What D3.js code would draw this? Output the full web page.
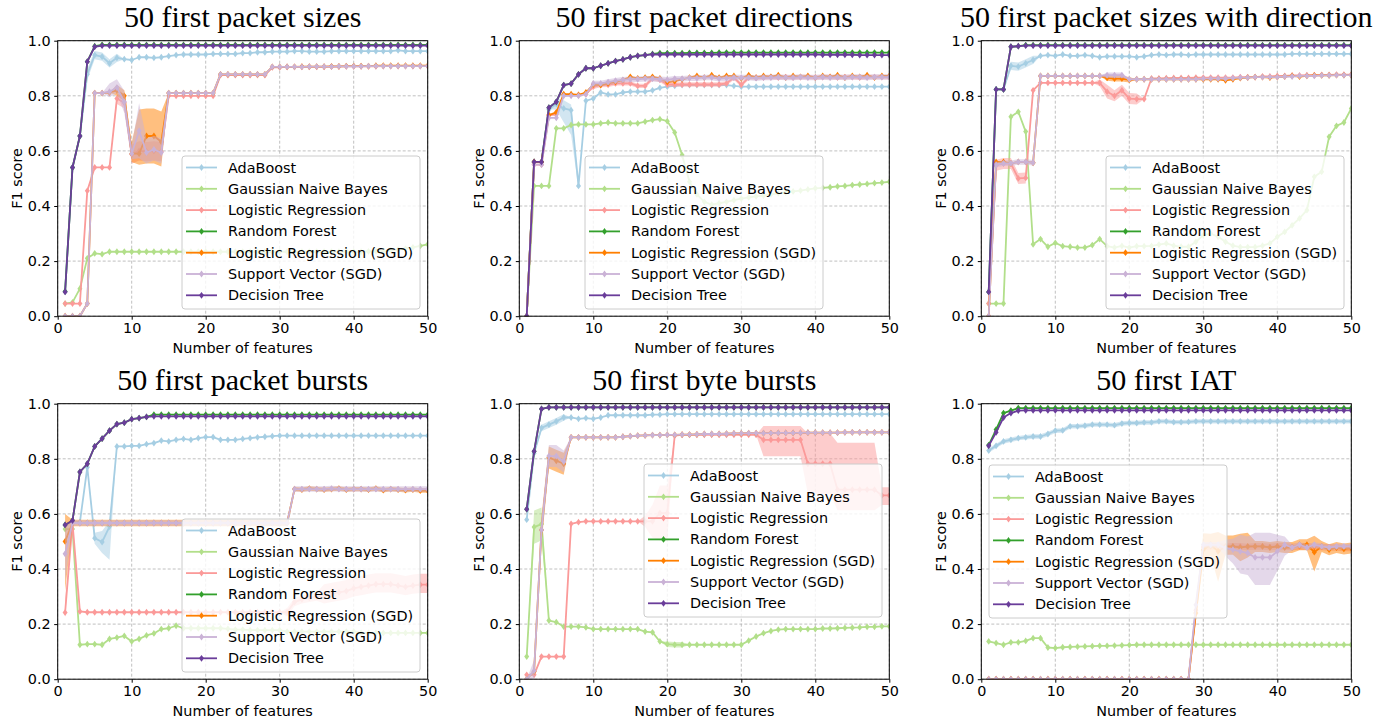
<!DOCTYPE html>
<html><head><meta charset="utf-8">
<script src="https://cdn.jsdelivr.net/npm/d3@7"></script>
<style>body{margin:0;background:#fff}</style>
</head><body><svg id="c" width="1377" height="725"></svg>
<script>
const seriesNames = ["AdaBoost","Gaussian Naive Bayes","Logistic Regression","Random Forest","Logistic Regression (SGD)","Support Vector (SGD)","Decision Tree"];
const seriesColors = ["#a6cee3","#b2df8a","#fb9a99","#33a02c","#ff7f00","#cab2d6","#6a3d9a"];
const panelTitles = ["50 first packet sizes","50 first packet directions","50 first packet sizes with direction","50 first packet bursts","50 first byte bursts","50 first IAT"];
const xTickValues = [0,10,20,30,40,50];
const yTickValues = [0,0.2,0.4,0.6,0.8,1.0];
const features = [1,2,3,4,5,6,7,8,9,10,11,12,13,14,15,16,17,18,19,20,21,22,23,24,25,26,27,28,29,30,31,32,33,34,35,36,37,38,39,40,41,42,43,44,45,46,47,48,49,50];

// ---------- Panel 1: packet sizes ----------
const p1_ada = [0.09,0.54,0.654,0.878,0.948,0.942,0.918,0.938,0.933,0.93,
 0.94,0.94,0.938,0.94,0.944,0.948,0.95,0.95,0.95,0.95,
 0.952,0.952,0.952,0.952,0.955,0.955,0.958,0.958,0.96,0.96,
 0.96,0.962,0.962,0.96,0.96,0.96,0.962,0.962,0.962,0.962,
 0.962,0.962,0.962,0.962,0.962,0.965,0.962,0.962,0.962,0.962];
const p1_gnb = [0.046,0.05,0.1,0.21,0.228,0.225,0.234,0.234,0.234,0.234,
 0.234,0.234,0.234,0.234,0.234,0.234,0.234,0.234,0.234,0.234,
 0.234,0.234,0.234,0.234,0.234,0.234,0.234,0.234,0.234,0.234,
 0.234,0.234,0.234,0.234,0.234,0.234,0.234,0.234,0.234,0.234,
 0.234,0.235,0.236,0.237,0.239,0.242,0.245,0.25,0.255,0.261];
const p1_lr = [0.046,0.046,0.046,0.455,0.54,0.54,0.54,0.79,0.775,0.588,
 0.6,0.597,0.6,0.597,0.8,0.8,0.8,0.8,0.8,0.8,
 0.8,0.875,0.875,0.875,0.875,0.875,0.875,0.875,0.903,0.903,
 0.905,0.905,0.905,0.905,0.905,0.905,0.906,0.906,0.907,0.907,
 0.907,0.907,0.907,0.908,0.908,0.908,0.908,0.908,0.908,0.908];
const p1_rf = [0.09,0.54,0.654,0.924,0.98,0.985,0.985,0.985,0.985,0.985,
 0.985,0.985,0.985,0.985,0.985,0.985,0.985,0.985,0.985,0.985,
 0.985,0.985,0.985,0.985,0.985,0.985,0.985,0.985,0.985,0.985,
 0.985,0.985,0.985,0.985,0.985,0.985,0.985,0.985,0.985,0.985,
 0.985,0.985,0.985,0.985,0.985,0.985,0.985,0.985,0.985,0.985];
const p1_sgd = [0,0,0,0.046,0.81,0.81,0.812,0.82,0.8,0.59,
 0.59,0.654,0.654,0.633,0.81,0.81,0.81,0.81,0.81,0.81,
 0.81,0.878,0.878,0.878,0.878,0.878,0.878,0.878,0.905,0.905,
 0.905,0.905,0.906,0.906,0.906,0.906,0.907,0.907,0.908,0.908,
 0.908,0.908,0.909,0.909,0.909,0.909,0.909,0.909,0.909,0.909];
const p1_sv = [0,0,0,0.046,0.81,0.81,0.815,0.83,0.778,0.59,
 0.673,0.594,0.605,0.594,0.81,0.81,0.81,0.81,0.81,0.81,
 0.81,0.878,0.878,0.878,0.878,0.878,0.878,0.878,0.905,0.905,
 0.905,0.905,0.905,0.906,0.906,0.906,0.906,0.907,0.907,0.907,
 0.907,0.908,0.908,0.908,0.908,0.908,0.908,0.908,0.908,0.908];
const p1_dt = [0.088,0.54,0.654,0.924,0.978,0.982,0.982,0.982,0.982,0.982,
 0.982,0.982,0.982,0.982,0.982,0.982,0.982,0.982,0.982,0.982,
 0.982,0.982,0.982,0.982,0.982,0.982,0.982,0.982,0.982,0.982,
 0.982,0.982,0.982,0.982,0.982,0.982,0.982,0.982,0.982,0.982,
 0.982,0.982,0.982,0.982,0.982,0.982,0.982,0.982,0.982,0.982];
// spread bands: [fromX, toX, lowOffset, highOffset]
const p1_ada_band = [[4,4,-0.02,0.02],[5,8,-0.015,0.015]];
const p1_lr_band = [[8,9,-0.02,0.02],[10,14,-0.035,0.035]];
const p1_sgd_band = [[8,9,-0.02,0.02],[10,10,-0.03,0.04],[11,11,-0.04,0.16],[12,13,-0.1,0.1],[14,14,-0.09,0.11]];
const p1_sv_band = [[7,8,-0.02,0.03],[9,9,-0.04,0.04],[10,10,-0.02,0.03],[11,11,-0.1,0.1],[12,14,-0.04,0.05]];

// ---------- Panel 2: packet directions ----------
const p2_ada = [0,0.56,0.56,0.75,0.77,0.754,0.748,0.473,0.782,0.79,
 0.812,0.805,0.805,0.812,0.815,0.815,0.815,0.82,0.829,0.833,
 0.836,0.839,0.839,0.839,0.839,0.839,0.839,0.839,0.836,0.833,
 0.833,0.833,0.833,0.833,0.833,0.833,0.833,0.833,0.833,0.833,
 0.833,0.833,0.833,0.833,0.833,0.833,0.833,0.833,0.833,0.833];
const p2_gnb = [0,0.473,0.473,0.473,0.682,0.682,0.694,0.696,0.696,0.696,
 0.7,0.703,0.7,0.7,0.7,0.7,0.706,0.712,0.715,0.708,
 0.667,0.585,0.488,0.442,0.415,0.405,0.41,0.415,0.421,0.427,
 0.431,0.435,0.438,0.442,0.446,0.449,0.453,0.456,0.46,0.464,
 0.466,0.468,0.471,0.473,0.476,0.478,0.48,0.483,0.485,0.488];
const p2_lr = [0,0.55,0.55,0.73,0.732,0.803,0.803,0.803,0.806,0.833,
 0.839,0.84,0.845,0.845,0.845,0.836,0.836,0.863,0.858,0.841,
 0.841,0.841,0.841,0.841,0.841,0.841,0.841,0.845,0.866,0.84,
 0.866,0.866,0.866,0.868,0.866,0.868,0.866,0.868,0.868,0.866,
 0.868,0.868,0.866,0.868,0.868,0.866,0.868,0.868,0.868,0.868];
const p2_rf = [0,0.56,0.56,0.757,0.778,0.839,0.844,0.878,0.9,0.9,
 0.909,0.918,0.926,0.932,0.94,0.945,0.948,0.952,0.955,0.955,
 0.955,0.955,0.956,0.956,0.956,0.956,0.957,0.957,0.957,0.957,
 0.957,0.957,0.957,0.957,0.957,0.957,0.957,0.957,0.957,0.957,
 0.957,0.957,0.957,0.957,0.957,0.957,0.957,0.957,0.957,0.957];
const p2_sgd = [0,0.56,0.56,0.73,0.74,0.806,0.806,0.803,0.812,0.841,
 0.839,0.845,0.851,0.857,0.869,0.863,0.866,0.869,0.863,0.85,
 0.853,0.86,0.866,0.872,0.866,0.875,0.866,0.872,0.872,0.863,
 0.875,0.866,0.872,0.869,0.875,0.866,0.872,0.869,0.872,0.866,
 0.872,0.869,0.875,0.866,0.872,0.869,0.875,0.866,0.872,0.872];
const p2_sv = [0,0.55,0.55,0.72,0.72,0.8,0.8,0.8,0.806,0.845,
 0.845,0.85,0.855,0.858,0.86,0.86,0.862,0.862,0.86,0.858,
 0.862,0.862,0.864,0.864,0.866,0.866,0.862,0.864,0.866,0.866,
 0.866,0.864,0.866,0.866,0.868,0.866,0.866,0.868,0.866,0.866,
 0.868,0.866,0.868,0.866,0.868,0.868,0.866,0.868,0.868,0.868];
const p2_dt = [0,0.56,0.56,0.757,0.778,0.839,0.844,0.878,0.9,0.9,
 0.909,0.918,0.926,0.932,0.94,0.945,0.948,0.95,0.95,0.95,
 0.95,0.95,0.95,0.95,0.95,0.95,0.95,0.95,0.95,0.95,
 0.95,0.95,0.95,0.95,0.95,0.95,0.95,0.95,0.95,0.95,
 0.949,0.949,0.949,0.949,0.949,0.948,0.948,0.948,0.948,0.948];
const p2_ada_band = [[5,5,-0.02,0.02],[6,6,-0.05,0.03],[7,7,-0.09,0.02],[8,8,-0.01,0.01]];
const p2_lr_band = [[10,50,-0.008,0.008]];
const p2_sv_band = [[10,50,-0.01,0.01]];

// ---------- Panel 3: packet sizes with direction ----------
const p3_ada = [0.088,0.823,0.823,0.909,0.906,0.918,0.93,0.945,0.948,0.945,
 0.95,0.945,0.945,0.948,0.945,0.94,0.943,0.943,0.943,0.943,
 0.94,0.943,0.948,0.95,0.948,0.95,0.95,0.948,0.95,0.95,
 0.95,0.95,0.95,0.95,0.95,0.95,0.95,0.95,0.95,0.95,
 0.95,0.952,0.952,0.952,0.952,0.952,0.952,0.952,0.952,0.952];
const p3_gnb = [0.046,0.046,0.046,0.724,0.742,0.67,0.261,0.28,0.252,0.266,
 0.254,0.252,0.249,0.249,0.258,0.28,0.254,0.249,0.255,0.249,
 0.254,0.254,0.255,0.26,0.264,0.256,0.252,0.252,0.27,0.294,
 0.3,0.288,0.27,0.256,0.251,0.251,0.251,0.256,0.264,0.288,
 0.306,0.33,0.355,0.385,0.506,0.524,0.651,0.691,0.703,0.754];
const p3_lr = [0.046,0.548,0.554,0.554,0.5,0.502,0.82,0.847,0.847,0.847,
 0.847,0.847,0.847,0.847,0.847,0.847,0.815,0.8,0.82,0.79,
 0.788,0.788,0.863,0.863,0.864,0.865,0.865,0.865,0.866,0.866,
 0.866,0.866,0.866,0.866,0.868,0.868,0.868,0.87,0.87,0.872,
 0.872,0.874,0.874,0.875,0.875,0.876,0.876,0.877,0.877,0.877];
const p3_rf = [0.088,0.823,0.823,0.978,0.98,0.984,0.984,0.984,0.984,0.984,
 0.984,0.984,0.984,0.984,0.984,0.984,0.984,0.984,0.984,0.984,
 0.984,0.984,0.984,0.984,0.984,0.984,0.984,0.984,0.984,0.984,
 0.984,0.984,0.984,0.984,0.984,0.984,0.984,0.984,0.984,0.984,
 0.984,0.984,0.984,0.984,0.984,0.984,0.984,0.984,0.984,0.984];
const p3_sgd = [0,0.56,0.56,0.555,0.56,0.56,0.557,0.872,0.872,0.872,
 0.872,0.872,0.872,0.872,0.872,0.872,0.865,0.862,0.862,0.858,
 0.86,0.86,0.86,0.86,0.86,0.86,0.86,0.86,0.86,0.86,
 0.86,0.86,0.856,0.86,0.864,0.866,0.868,0.868,0.866,0.868,
 0.87,0.872,0.87,0.872,0.874,0.874,0.874,0.875,0.875,0.875];
const p3_sv = [0,0.55,0.555,0.555,0.56,0.56,0.557,0.872,0.872,0.872,
 0.872,0.872,0.872,0.872,0.872,0.872,0.875,0.875,0.875,0.86,
 0.86,0.86,0.86,0.86,0.86,0.86,0.86,0.86,0.86,0.862,
 0.862,0.862,0.862,0.864,0.866,0.866,0.868,0.868,0.868,0.868,
 0.87,0.87,0.872,0.872,0.872,0.874,0.874,0.875,0.875,0.875];
const p3_dt = [0.088,0.823,0.823,0.978,0.98,0.982,0.982,0.982,0.982,0.982,
 0.982,0.982,0.982,0.982,0.982,0.982,0.982,0.982,0.982,0.982,
 0.982,0.982,0.982,0.982,0.982,0.982,0.982,0.982,0.982,0.982,
 0.982,0.982,0.982,0.982,0.982,0.982,0.982,0.982,0.982,0.982,
 0.982,0.982,0.982,0.982,0.982,0.982,0.982,0.982,0.982,0.982];
const p3_ada_band = [[4,7,-0.015,0.015]];
const p3_lr_band = [[2,6,-0.02,0.02],[16,16,-0.012,0.012],[17,17,-0.025,0.025],[18,21,-0.02,0.02]];
const p3_sgd_band = [[17,20,-0.01,0.01]];
const p3_sv_band = [[2,7,-0.01,0.01],[17,19,-0.01,0.01]];

// ---------- Panel 4: packet bursts ----------
const p4_ada = [0.56,0.57,0.57,0.769,0.512,0.498,0.554,0.845,0.845,0.847,
 0.847,0.853,0.857,0.866,0.863,0.869,0.872,0.869,0.875,0.879,
 0.879,0.869,0.869,0.869,0.872,0.875,0.878,0.88,0.882,0.884,
 0.884,0.884,0.884,0.884,0.884,0.884,0.884,0.884,0.884,0.884,
 0.884,0.884,0.884,0.884,0.884,0.884,0.884,0.884,0.884,0.884];
const p4_gnb = [0.545,0.545,0.125,0.127,0.127,0.125,0.146,0.151,0.157,0.137,
 0.146,0.159,0.166,0.182,0.185,0.194,0.185,0.185,0.185,0.185,
 0.185,0.185,0.183,0.18,0.18,0.178,0.178,0.178,0.178,0.178,
 0.173,0.173,0.173,0.173,0.173,0.173,0.173,0.173,0.173,0.173,
 0.168,0.168,0.168,0.168,0.168,0.168,0.168,0.168,0.168,0.168];
const p4_lr = [0.242,0.567,0.246,0.243,0.243,0.243,0.243,0.243,0.243,0.243,
 0.243,0.243,0.243,0.243,0.243,0.243,0.243,0.243,0.243,0.243,
 0.243,0.243,0.243,0.243,0.243,0.243,0.243,0.243,0.243,0.243,
 0.243,0.28,0.29,0.295,0.3,0.305,0.31,0.315,0.32,0.33,
 0.335,0.34,0.345,0.345,0.345,0.34,0.335,0.34,0.343,0.343];
const p4_rf = [0.56,0.576,0.752,0.782,0.845,0.873,0.902,0.926,0.931,0.944,
 0.948,0.952,0.96,0.96,0.96,0.96,0.96,0.96,0.96,0.96,
 0.96,0.96,0.96,0.96,0.96,0.96,0.96,0.96,0.96,0.96,
 0.96,0.96,0.96,0.96,0.96,0.96,0.96,0.96,0.96,0.96,
 0.96,0.96,0.96,0.96,0.96,0.96,0.96,0.96,0.96,0.96];
const p4_sgd = [0.5,0.567,0.567,0.567,0.567,0.567,0.567,0.567,0.567,0.567,
 0.567,0.567,0.567,0.567,0.567,0.567,0.567,0.567,0.567,0.567,
 0.567,0.567,0.567,0.567,0.567,0.567,0.567,0.567,0.567,0.567,
 0.567,0.69,0.688,0.692,0.69,0.688,0.69,0.692,0.688,0.69,
 0.69,0.688,0.692,0.686,0.69,0.688,0.686,0.688,0.685,0.685];
const p4_sv = [0.455,0.567,0.567,0.567,0.567,0.567,0.567,0.567,0.567,0.567,
 0.567,0.567,0.567,0.567,0.567,0.567,0.567,0.567,0.567,0.567,
 0.567,0.567,0.567,0.567,0.567,0.567,0.567,0.567,0.567,0.567,
 0.567,0.69,0.69,0.69,0.69,0.69,0.692,0.69,0.69,0.69,
 0.69,0.69,0.69,0.69,0.69,0.69,0.69,0.69,0.69,0.69];
const p4_dt = [0.56,0.576,0.752,0.782,0.845,0.873,0.902,0.926,0.931,0.944,
 0.948,0.952,0.954,0.954,0.954,0.954,0.954,0.954,0.954,0.954,
 0.954,0.954,0.954,0.954,0.954,0.954,0.954,0.954,0.954,0.954,
 0.954,0.954,0.954,0.954,0.954,0.954,0.954,0.954,0.954,0.954,
 0.954,0.954,0.954,0.954,0.954,0.954,0.954,0.954,0.954,0.954];
const p4_ada_band = [[5,5,-0.02,0.02],[6,6,-0.04,0.04],[7,7,-0.12,0.02]];
const p4_lr_band = [[1,1,-0.02,0.05],[31,35,-0.015,0.015],[36,50,-0.03,0.04]];
const p4_sgd_band = [[1,1,-0.18,0.1],[2,31,-0.012,0.012],[32,50,-0.008,0.008]];
const p4_sv_band = [[1,1,-0.1,0.1],[2,50,-0.01,0.01]];

// ---------- Panel 5: byte bursts ----------
const p5_ada = [0.579,0.82,0.912,0.924,0.936,0.95,0.95,0.945,0.948,0.945,
 0.95,0.958,0.958,0.958,0.958,0.958,0.958,0.96,0.96,0.962,
 0.962,0.962,0.962,0.962,0.962,0.962,0.962,0.962,0.962,0.962,
 0.962,0.962,0.962,0.962,0.962,0.962,0.962,0.962,0.962,0.962,
 0.962,0.962,0.962,0.962,0.962,0.962,0.962,0.962,0.962,0.962];
const p5_gnb = [0.082,0.552,0.563,0.213,0.207,0.191,0.191,0.191,0.188,0.182,
 0.182,0.182,0.182,0.182,0.182,0.182,0.173,0.17,0.137,0.127,
 0.125,0.125,0.125,0.125,0.125,0.125,0.125,0.125,0.125,0.125,
 0.14,0.155,0.167,0.175,0.18,0.182,0.182,0.182,0.182,0.182,
 0.184,0.184,0.185,0.186,0.187,0.188,0.19,0.19,0.192,0.192];
const p5_lr = [0.016,0.016,0.082,0.082,0.082,0.082,0.564,0.57,0.573,0.573,
 0.573,0.573,0.573,0.573,0.573,0.573,0.573,0.573,0.603,0.603,
 0.884,0.887,0.887,0.887,0.887,0.887,0.887,0.887,0.887,0.887,
 0.887,0.887,0.869,0.869,0.869,0.869,0.869,0.869,0.782,0.782,
 0.782,0.782,0.688,0.688,0.688,0.688,0.688,0.688,0.667,0.667];
const p5_rf = [0.617,0.827,0.981,0.987,0.987,0.987,0.987,0.987,0.987,0.987,
 0.987,0.987,0.987,0.987,0.987,0.987,0.987,0.987,0.987,0.987,
 0.987,0.987,0.987,0.987,0.987,0.987,0.987,0.987,0.987,0.987,
 0.987,0.987,0.987,0.987,0.987,0.987,0.987,0.987,0.987,0.987,
 0.987,0.987,0.987,0.987,0.987,0.987,0.987,0.987,0.987,0.987];
const p5_sgd = [0,0.028,0.542,0.805,0.793,0.782,0.878,0.878,0.878,0.878,
 0.878,0.878,0.878,0.88,0.882,0.884,0.885,0.886,0.886,0.887,
 0.887,0.888,0.888,0.889,0.89,0.89,0.89,0.891,0.892,0.892,
 0.893,0.893,0.893,0.893,0.894,0.894,0.894,0.894,0.895,0.895,
 0.895,0.895,0.895,0.896,0.896,0.896,0.896,0.896,0.896,0.896];
const p5_sv = [0,0.03,0.542,0.81,0.81,0.79,0.878,0.878,0.878,0.878,
 0.878,0.878,0.878,0.88,0.882,0.884,0.885,0.886,0.886,0.887,
 0.887,0.888,0.888,0.889,0.89,0.89,0.89,0.891,0.892,0.892,
 0.893,0.893,0.893,0.893,0.894,0.894,0.894,0.894,0.895,0.895,
 0.895,0.895,0.895,0.896,0.896,0.896,0.896,0.896,0.896,0.896];
const p5_dt = [0.617,0.827,0.981,0.987,0.987,0.987,0.987,0.987,0.987,0.987,
 0.987,0.987,0.987,0.987,0.987,0.987,0.987,0.987,0.987,0.987,
 0.987,0.987,0.987,0.987,0.987,0.987,0.987,0.987,0.987,0.987,
 0.987,0.987,0.987,0.987,0.987,0.987,0.987,0.987,0.987,0.987,
 0.987,0.987,0.987,0.987,0.987,0.987,0.987,0.987,0.987,0.987];
const p5_ada_band = [[3,6,-0.012,0.012]];
const p5_gnb_band = [[2,3,-0.06,0.06],[20,22,-0.01,0.01]];
const p5_lr_band = [[17,17,-0.02,0.02],[18,18,-0.06,0.06],[19,20,-0.1,0.1],[33,38,-0.06,0.05],[39,42,-0.11,0.11],[43,48,-0.075,0.17],[49,50,-0.035,0.03]];
const p5_sgd_band = [[3,3,-0.05,0.05],[4,6,-0.04,0.04]];
const p5_sv_band = [[2,3,-0.04,0.04],[4,6,-0.04,0.04]];

// ---------- Panel 6: IAT ----------
const p6_ada = [0.83,0.847,0.863,0.869,0.875,0.878,0.881,0.881,0.89,0.902,
 0.903,0.918,0.918,0.92,0.924,0.924,0.924,0.922,0.928,0.93,
 0.93,0.932,0.932,0.936,0.936,0.933,0.933,0.934,0.936,0.936,
 0.936,0.936,0.936,0.936,0.936,0.936,0.936,0.936,0.936,0.936,
 0.936,0.936,0.936,0.936,0.936,0.936,0.936,0.936,0.936,0.936];
const p6_gnb = [0.137,0.131,0.125,0.134,0.134,0.139,0.149,0.149,0.115,0.113,
 0.116,0.117,0.118,0.119,0.12,0.121,0.121,0.122,0.123,0.124,
 0.125,0.125,0.125,0.125,0.125,0.125,0.125,0.125,0.125,0.125,
 0.125,0.125,0.125,0.125,0.125,0.125,0.125,0.125,0.125,0.125,
 0.125,0.125,0.125,0.125,0.125,0.125,0.125,0.125,0.125,0.125];
const p6_lr = [0,0,0,0,0,0,0,0,0,0,
 0,0,0,0,0,0,0,0,0,0,
 0,0,0,0,0,0,0,0,0.25,0.48,
 0.482,0.482,0.48,0.482,0.482,0.48,0.482,0.482,0.48,0.482,
 0.482,0.48,0.482,0.482,0.48,0.48,0.478,0.478,0.476,0.476];
const p6_rf = [0.85,0.906,0.966,0.975,0.984,0.984,0.984,0.984,0.984,0.984,
 0.984,0.984,0.984,0.984,0.984,0.984,0.984,0.984,0.984,0.984,
 0.984,0.984,0.984,0.984,0.984,0.984,0.984,0.984,0.984,0.984,
 0.984,0.984,0.984,0.984,0.984,0.984,0.984,0.984,0.984,0.984,
 0.984,0.984,0.984,0.984,0.984,0.984,0.984,0.984,0.984,0.984];
const p6_sgd = [0,0,0,0,0,0,0,0,0,0,
 0,0,0,0,0,0,0,0,0,0,
 0,0,0,0,0,0,0,0,0.24,0.47,
 0.488,0.464,0.482,0.482,0.478,0.482,0.482,0.482,0.478,0.482,
 0.478,0.478,0.488,0.488,0.461,0.482,0.47,0.478,0.473,0.476];
const p6_sv = [0,0,0,0,0,0,0,0,0,0,
 0,0,0,0,0,0,0,0,0,0,
 0,0,0,0,0,0,0,0,0.27,0.488,
 0.488,0.488,0.476,0.47,0.464,0.458,0.442,0.442,0.442,0.464,
 0.488,0.478,0.488,0.478,0.488,0.482,0.478,0.482,0.482,0.482];
const p6_dt = [0.847,0.896,0.95,0.966,0.975,0.976,0.976,0.976,0.976,0.976,
 0.976,0.976,0.976,0.976,0.976,0.976,0.976,0.976,0.976,0.976,
 0.976,0.976,0.976,0.976,0.976,0.976,0.976,0.976,0.976,0.976,
 0.976,0.976,0.976,0.976,0.976,0.976,0.976,0.976,0.976,0.976,
 0.976,0.976,0.976,0.976,0.976,0.976,0.976,0.976,0.976,0.976];
const p6_ada_band = [[1,50,-0.008,0.008]];
const p6_lr_band = [[30,50,-0.012,0.012]];
const p6_sgd_band = [[29,29,-0.03,0.03],[30,30,-0.04,0.06],[31,31,-0.04,0.04],[32,32,-0.11,0.07],[33,34,-0.03,0.04],[35,35,-0.05,0.05],[36,36,-0.04,0.05],[37,44,-0.02,0.02],[45,45,-0.07,0.06],[46,50,-0.02,0.02]];
const p6_sv_band = [[29,29,-0.03,0.03],[30,32,-0.01,0.01],[33,33,-0.03,0.03],[34,34,-0.05,0.04],[35,36,-0.08,0.06],[37,39,-0.1,0.09],[40,40,-0.07,0.06],[41,41,-0.04,0.03],[42,50,-0.01,0.01]];

const panels = [
  {title: panelTitles[0], values: [p1_ada,p1_gnb,p1_lr,p1_rf,p1_sgd,p1_sv,p1_dt], bands: [p1_ada_band,null,p1_lr_band,null,p1_sgd_band,p1_sv_band,null]},
  {title: panelTitles[1], values: [p2_ada,p2_gnb,p2_lr,p2_rf,p2_sgd,p2_sv,p2_dt], bands: [p2_ada_band,null,p2_lr_band,null,null,p2_sv_band,null]},
  {title: panelTitles[2], values: [p3_ada,p3_gnb,p3_lr,p3_rf,p3_sgd,p3_sv,p3_dt], bands: [p3_ada_band,null,p3_lr_band,null,p3_sgd_band,p3_sv_band,null]},
  {title: panelTitles[3], values: [p4_ada,p4_gnb,p4_lr,p4_rf,p4_sgd,p4_sv,p4_dt], bands: [p4_ada_band,null,p4_lr_band,null,p4_sgd_band,p4_sv_band,null]},
  {title: panelTitles[4], values: [p5_ada,p5_gnb,p5_lr,p5_rf,p5_sgd,p5_sv,p5_dt], bands: [p5_ada_band,p5_gnb_band,p5_lr_band,null,p5_sgd_band,p5_sv_band,null]},
  {title: panelTitles[5], values: [p6_ada,p6_gnb,p6_lr,p6_rf,p6_sgd,p6_sv,p6_dt], bands: [p6_ada_band,null,p6_lr_band,null,p6_sgd_band,p6_sv_band,null]}
];

// ---------- layout ----------
const svg = d3.select("#c");
const panelLeft = [57.7, 519.3, 981.3], panelTop = [40.7, 403.7];
const PW = 370, PH = 275.5;
const legendAt = [[182,156],[585,156],[1106,156],[182,519],[644,464],[989,465]];
const SANS = "'DejaVu Sans', sans-serif";
const SERIF = "'Liberation Serif', 'Times New Roman', serif";
const FS = 14.4;
const diamond = "M0,-3.4L2.5,0L0,3.4L-2.5,0Z";

panels.forEach((p, pi) => {
  const L = panelLeft[pi % 3], T = panelTop[Math.floor(pi / 3)];
  const x = d3.scaleLinear().domain([0, 50]).range([0, PW]);
  const y = d3.scaleLinear().domain([0, 1]).range([PH, 0]);
  const g = svg.append("g").attr("transform", `translate(${L},${T})`);
  const cid = "clip" + pi;
  g.append("clipPath").attr("id", cid).append("rect").attr("width", PW).attr("height", PH);

  g.append("g").selectAll("line").data(xTickValues).join("line")
    .attr("x1", d => x(d)).attr("x2", d => x(d)).attr("y1", 0).attr("y2", PH)
    .attr("stroke", "#b0b0b0").attr("stroke-width", 0.8).attr("stroke-dasharray", "3,2");
  g.append("g").selectAll("line").data(yTickValues).join("line")
    .attr("y1", d => y(d)).attr("y2", d => y(d)).attr("x1", 0).attr("x2", PW)
    .attr("stroke", "#b0b0b0").attr("stroke-width", 0.8).attr("stroke-dasharray", "3,2");

  const plot = g.append("g").attr("clip-path", `url(#${cid})`);
  p.values.forEach((vals, si) => {
    const col = seriesColors[si];
    const band = p.bands[si];
    if (band) {
      const lo = vals.slice(), hi = vals.slice();
      band.forEach(([a, b, dl, dh]) => { for (let k = a; k <= b; k++) { lo[k-1] = vals[k-1] + dl; hi[k-1] = vals[k-1] + dh; } });
      plot.append("path").datum(features.map((f, i) => [f, lo[i], hi[i]]))
        .attr("d", d3.area().x(d => x(d[0])).y0(d => y(d[1])).y1(d => y(d[2])))
        .attr("fill", col).attr("fill-opacity", 0.5);
    }
    const pts = features.map((f, i) => [f, vals[i]]);
    plot.append("path").datum(pts)
      .attr("d", d3.line().x(d => x(d[0])).y(d => y(d[1])))
      .attr("fill", "none").attr("stroke", col).attr("stroke-width", 1.8).attr("stroke-linejoin", "round");
    plot.append("g").selectAll("path").data(pts).join("path")
      .attr("d", diamond).attr("transform", d => `translate(${x(d[0])},${y(d[1])})`).attr("fill", col);
  });

  const ax = g.append("g").attr("transform", `translate(0,${PH})`)
    .call(d3.axisBottom(x).tickValues(xTickValues).tickSize(3.5).tickPadding(3.5).tickFormat(d3.format("d")));
  const ay = g.append("g")
    .call(d3.axisLeft(y).tickValues(yTickValues).tickSize(3.5).tickPadding(3.5).tickFormat(d3.format(".1f")));
  [ax, ay].forEach(a => {
    a.select(".domain").remove();
    a.selectAll("line").attr("stroke", "#000").attr("stroke-width", 1);
    a.selectAll("text").attr("font-family", SANS).attr("font-size", FS).attr("fill", "#000");
  });
  g.append("rect").attr("width", PW).attr("height", PH).attr("fill", "none").attr("stroke", "#000").attr("stroke-width", 1);

  g.append("text").attr("x", PW / 2).attr("y", -13.5).attr("text-anchor", "middle")
    .attr("font-family", SERIF).attr("font-size", 30).attr("fill", "#000").text(p.title);
  g.append("text").attr("x", PW / 2).attr("y", PH + 37).attr("text-anchor", "middle")
    .attr("font-family", SANS).attr("font-size", FS).attr("fill", "#000").text("Number of features");
  g.append("text").attr("transform", `translate(${-35.5},${PH / 2}) rotate(-90)`).attr("text-anchor", "middle")
    .attr("font-family", SANS).attr("font-size", FS).attr("fill", "#000").text("F1 score");

  const [lx, ly] = legendAt[pi];
  const lg = svg.append("g").attr("transform", `translate(${lx},${ly})`);
  lg.append("rect").attr("width", 238).attr("height", 153).attr("rx", 3)
    .attr("fill", "#fff").attr("fill-opacity", 0.8).attr("stroke", "#cccccc").attr("stroke-width", 1);
  seriesNames.forEach((n, i) => {
    const cy = 11.5 + i * 21.3;
    lg.append("line").attr("x1", 4).attr("x2", 35).attr("y1", cy).attr("y2", cy)
      .attr("stroke", seriesColors[i]).attr("stroke-width", 1.8);
    lg.append("path").attr("d", diamond).attr("transform", `translate(19.5,${cy})`).attr("fill", seriesColors[i]);
    lg.append("text").attr("x", 46).attr("y", cy + 5).attr("font-family", SANS).attr("font-size", FS)
      .attr("fill", "#000").text(n);
  });
});
</script>
</body></html>
